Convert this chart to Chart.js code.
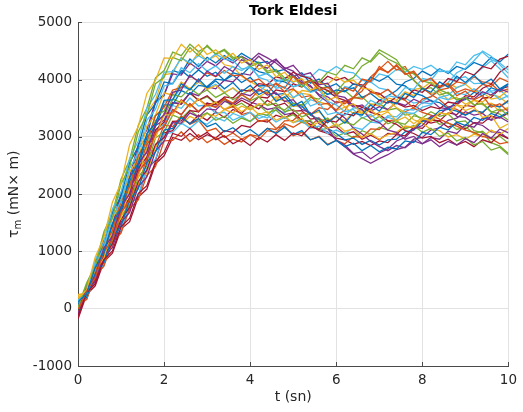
<!DOCTYPE html>
<html>
<head>
<meta charset="utf-8">
<script src="https://cdn.jsdelivr.net/npm/chart.js@4.4.1/dist/chart.umd.min.js"></script>
<style>
  html, body { margin: 0; padding: 0; background: #fff; }
  #wrap { width: 523px; height: 412px; }
</style>
</head>
<body>
<div id="wrap"><canvas id="tork" width="523" height="412"></canvas></div>
<script>
// time axis (s) and tick values
const times = [0,0.2,0.4,0.6,0.8,1,1.2,1.4,1.6,1.8,2,2.2,2.4,2.6,2.8,3,3.2,3.4,3.6,3.8,4,4.2,4.4,4.6,4.8,5,5.2,5.4,5.6,5.8,6,6.2,6.4,6.6,6.8,7,7.2,7.4,7.6,7.8,8,8.2,8.4,8.6,8.8,9,9.2,9.4,9.6,9.8,10];
const xTicks = [0, 2, 4, 6, 8, 10];
const yTicks = [-1000, 0, 1000, 2000, 3000, 4000, 5000];

// torque runs (mN x m)
const r01 = [120,260,720,980,1490,1760,2290,2540,3060,3240,3640,3650,3930,3820,4010,3860,3980,3840,3950,3790,3900,3740,3820,3620,3700,3540,3620,3390,3470,3250,3360,3240,3420,3380,3560,3450,3620,3580,3760,3690,3850,3780,3960,3870,4060,3950,4080,3920,4010,3840,3930];
const r02 = [-30,310,540,990,1210,1680,1900,2380,2610,3080,3190,3470,3390,3580,3440,3560,3520,3670,3590,3740,3650,3820,3760,3940,3850,4060,3920,3990,3810,3870,3730,3860,3800,4010,3970,4230,4120,4260,4090,4150,3960,4030,3880,3910,3720,3800,3650,3720,3520,3580,3440];
const r03 = [180,330,900,1240,1860,2190,2870,3180,3760,3990,4380,4370,4620,4480,4610,4440,4520,4380,4460,4290,4350,4180,4260,4050,4130,3960,4020,3820,3860,3640,3700,3520,3580,3390,3470,3360,3440,3280,3350,3230,3340,3270,3420,3390,3560,3460,3520,3340,3380,3150,3230];
const r04 = [-60,350,560,1060,1270,1780,2010,2530,2740,3230,3390,3780,3820,4080,3960,4150,4060,4230,4140,4350,4260,4410,4280,4360,4190,4250,4080,4120,3910,3940,3720,3690,3540,3480,3310,3250,3120,3080,2960,3010,2880,2950,2830,2920,2860,2970,2900,3060,2980,3140,3070];
const r05 = [20,420,720,1300,1590,2180,2480,3090,3380,3930,4040,4390,4330,4560,4420,4600,4450,4510,4360,4400,4230,4290,4120,4150,3980,4060,3870,3990,3960,4130,4080,4250,4190,4380,4310,4470,4360,4290,4180,4100,3980,3940,3820,3760,3650,3690,3560,3580,3430,3490,3380];
const r06 = [150,260,790,1060,1610,1880,2450,2730,3290,3480,3890,3930,4210,4120,4280,4150,4240,4110,4230,4160,4250,4040,3990,3850,3880,3690,3760,3540,3600,3390,3430,3380,3510,3470,3640,3560,3720,3690,3860,3830,4020,3990,4180,4120,4310,4260,4420,4480,4350,4290,4170];
const r07 = [-120,280,440,860,1010,1430,1580,2010,2150,2570,2730,3060,3010,3150,2990,3080,2950,3020,2880,2960,2850,2990,2910,3040,2940,3070,3020,3180,3130,3290,3260,3410,3370,3520,3480,3640,3590,3700,3660,3820,3780,3910,3860,4020,3970,4140,4080,4230,4190,4360,4410];
const r08 = [90,200,610,810,1250,1440,1900,2090,2550,2740,3120,3150,3340,3230,3320,3180,3240,3090,3160,3040,3130,3020,3150,3060,3170,3040,3110,2950,3000,2860,2940,2830,2890,2760,2850,2740,2820,2790,2930,2900,3080,3040,3170,3120,3260,3200,3340,3290,3410,3350,3440];
const r09 = [10,340,610,1110,1360,1880,2130,2670,2920,3370,3520,3820,3860,4060,3980,4120,4050,4160,4070,4080,3960,4010,3880,3930,3790,3840,3690,3720,3560,3590,3470,3620,3690,3880,3990,4190,4130,4240,4100,4120,3970,4010,3880,3930,3780,3840,3790,3920,3880,4030,3960];
const r10 = [210,200,680,880,1390,1580,2090,2300,2800,2980,3390,3380,3630,3520,3660,3530,3610,3480,3560,3440,3530,3390,3440,3290,3360,3250,3330,3180,3260,3150,3230,3100,3140,2990,3060,2960,3040,3080,3190,3170,3310,3290,3420,3400,3560,3530,3640,3560,3590,3440,3520];
const r11 = [-90,290,480,900,1070,1510,1680,2130,2300,2750,2930,3250,3240,3420,3350,3490,3470,3620,3580,3760,3720,3840,3730,3770,3620,3650,3480,3420,3230,3150,2940,2860,2710,2740,2620,2720,2790,2930,2990,3140,3200,3360,3390,3520,3560,3680,3660,3790,3730,3840,3780];
const r12 = [-20,370,590,1120,1360,1900,2130,2690,2910,3380,3450,3740,3700,3850,3740,3820,3690,3770,3650,3740,3630,3700,3550,3590,3440,3480,3350,3410,3260,3330,3180,3260,3210,3340,3270,3360,3230,3290,3140,3200,3080,3150,3010,3070,2930,2990,2860,2920,2770,2820,2690];
const r13 = [130,290,850,1160,1740,2040,2630,2930,3500,3740,4130,4140,4380,4290,4420,4330,4450,4360,4330,4190,4210,4060,4110,3960,4020,3870,3930,3780,3820,3620,3560,3440,3480,3330,3390,3270,3340,3300,3430,3410,3520,3560,3690,3730,3860,3920,4080,4210,4330,4190,4030];
const r14 = [-150,310,490,930,1130,1560,1770,2220,2420,2870,2990,3270,3280,3460,3440,3590,3560,3700,3680,3820,3800,3930,3910,4050,4010,4130,4060,4020,3880,3810,3690,3640,3560,3520,3430,3390,3280,3220,3110,3060,2980,3010,2900,2960,2860,2920,2830,2950,2900,3040,2970];
const r15 = [60,240,700,960,1450,1700,2220,2460,2990,3180,3560,3560,3810,3740,3900,3880,4010,3990,4120,4080,4230,4140,4100,3990,3960,3880,3920,3790,3850,3740,3820,3790,3930,3880,4040,3970,4060,3920,3890,3770,3720,3630,3600,3490,3450,3380,3460,3430,3560,3520,3630];
const r16 = [70,160,570,740,1160,1320,1750,1900,2330,2480,2930,2940,3090,2920,3040,2900,2990,2870,2960,2910,3040,3010,3150,3130,3280,3290,3420,3390,3510,3480,3620,3580,3690,3660,3780,3740,3830,3700,3640,3500,3430,3380,3310,3240,3190,3120,3080,3010,2970,2880,2910];
const r17 = [250,260,780,1040,1580,1830,2390,2620,3190,3380,3770,3730,3960,3840,3970,3830,3900,3770,3860,3740,3840,3700,3790,3650,3760,3670,3810,3790,3940,3920,4050,3960,3990,3850,3830,3700,3640,3510,3430,3300,3240,3130,3110,3000,3040,2960,3050,3000,3120,3040,3150];
const r18 = [-100,330,570,1040,1260,1770,2010,2530,2730,3200,3290,3600,3580,3770,3720,3880,3840,3990,3960,4110,4080,4260,4200,4340,4210,4150,3980,3900,3720,3610,3440,3330,3150,3050,2920,2830,2760,2850,2810,2930,2880,2990,2960,3100,3060,3210,3170,3330,3300,3460,3490];
const r19 = [40,320,510,970,1170,1620,1810,2300,2490,2980,3090,3380,3320,3470,3350,3420,3290,3360,3240,3330,3270,3410,3380,3530,3470,3590,3560,3690,3660,3810,3780,3960,4040,4240,4330,4520,4440,4350,4120,3990,3830,3860,3730,3780,3650,3690,3560,3590,3440,3400,3290];
const r20 = [110,180,560,780,1190,1380,1810,1980,2440,2610,3050,3080,3240,3150,3280,3220,3340,3280,3410,3350,3430,3320,3380,3260,3340,3250,3290,3150,3190,3060,3120,3050,3170,3130,3260,3240,3370,3350,3480,3470,3600,3580,3690,3650,3770,3740,3840,3760,3790,3650,3720];
const r21 = [-40,330,540,1020,1230,1720,1930,2450,2650,3120,3260,3600,3570,3770,3640,3720,3590,3680,3540,3640,3560,3700,3680,3820,3790,3930,3870,3990,3920,4060,3990,4040,3920,3910,3790,3760,3640,3590,3520,3550,3460,3530,3490,3610,3580,3720,3700,3850,3920,4130,4240];
const r22 = [160,280,820,1100,1680,1960,2550,2830,3380,3580,3960,3930,4160,4040,4170,4060,4130,3990,4080,3950,4040,3890,3900,3740,3760,3580,3540,3380,3310,3150,3060,2950,2980,2870,2940,2860,2950,2960,3090,3120,3270,3320,3460,3480,3620,3650,3780,3720,3860,3800,3920];
const r23 = [200,220,690,920,1400,1630,2160,2380,2880,3030,3410,3420,3650,3530,3660,3550,3610,3480,3530,3390,3430,3270,3300,3150,3190,3020,3080,2950,3010,2870,2940,2880,3010,2990,3140,3130,3280,3300,3440,3510,3660,3700,3820,3850,3960,3930,4050,3960,3930,3790,3840];
const r24 = [-10,300,480,920,1100,1550,1720,2190,2370,2830,2980,3270,3220,3360,3290,3410,3360,3480,3420,3540,3470,3580,3560,3700,3680,3820,3760,3740,3610,3570,3460,3520,3410,3460,3350,3430,3460,3620,3680,3830,3850,3960,3880,3940,3860,3920,3800,3780,3660,3690,3580];
const r25 = [40,380,670,1190,1470,2020,2300,2870,3120,3620,3740,4100,4080,4290,4180,4320,4240,4380,4290,4410,4330,4460,4380,4290,4170,4080,3950,3880,3740,3700,3590,3630,3520,3560,3450,3530,3480,3600,3550,3660,3590,3640,3510,3490,3360,3340,3240,3200,3090,3080,2970];
const r26 = [-140,350,570,1090,1310,1830,2070,2600,2830,3290,3370,3660,3600,3760,3640,3700,3580,3650,3520,3590,3480,3560,3420,3470,3330,3390,3250,3290,3120,3150,3010,3070,2980,3110,3050,3170,3120,3260,3220,3370,3330,3440,3360,3400,3260,3280,3110,3070,2900,2840,2710];
const r27 = [100,240,700,990,1480,1740,2270,2520,3050,3220,3610,3640,3880,3830,3960,3850,3920,3780,3850,3730,3830,3790,3920,3880,4010,3950,4070,4040,4180,4130,4230,4140,4120,3990,3960,3850,3820,3710,3680,3590,3620,3710,3840,3950,4120,4200,4330,4500,4410,4260,4110];
const r28 = [-180,250,400,820,970,1390,1520,1950,2090,2530,2670,2990,2940,3060,2950,3040,2980,3110,3080,3200,3170,3290,3260,3380,3330,3420,3290,3220,3110,3060,2980,2950,2870,2920,2850,2930,2900,3040,3020,3170,3150,3300,3280,3420,3390,3550,3530,3680,3690,3840,3880];
const r29 = [-50,400,640,1170,1420,1990,2210,2790,3010,3600,3720,4160,4110,4360,4230,4390,4290,4420,4330,4460,4370,4290,4320,4140,4180,4050,4120,3940,4010,3860,3930,3800,3860,3690,3760,3640,3720,3810,3960,4020,4150,4070,4190,4110,4230,4180,4300,4240,4390,4310,4450];
const r30 = [130,190,640,830,1300,1480,1960,2150,2640,2820,3210,3180,3370,3220,3290,3100,3150,2990,3070,2960,3040,2950,3110,3080,3230,3170,3260,3200,3320,3250,3380,3460,3690,3800,4050,4180,4320,4170,4230,3990,3860,3740,3650,3520,3480,3390,3470,3420,3580,3530,3640];
const r31 = [230,290,820,1110,1690,1960,2560,2810,3420,3640,4090,4110,4390,4260,4480,4330,4420,4260,4230,4060,3970,3880,3800,3660,3640,3530,3560,3390,3440,3290,3350,3280,3430,3420,3580,3540,3680,3640,3790,3720,3840,3760,3790,3650,3690,3570,3640,3610,3740,3700,3820];
const r32 = [0,330,510,1010,1180,1690,1870,2400,2570,3090,3170,3480,3390,3580,3440,3590,3520,3660,3570,3680,3610,3560,3480,3510,3390,3420,3290,3270,3130,3090,2950,2830,2700,2620,2540,2620,2690,2780,2820,2960,2990,3120,3160,3290,3330,3440,3380,3410,3290,3350,3260];
const r33 = [40,450,760,1340,1670,2260,2600,3200,3500,4030,4160,4480,4420,4620,4490,4580,4450,4530,4390,4400,4260,4310,4150,4180,4030,4070,3940,3990,3840,3880,3760,3810,3680,3700,3560,3590,3470,3500,3380,3410,3300,3340,3220,3250,3130,3180,3060,3100,2970,3010,2890];
const r34 = [-70,340,530,1030,1220,1730,1920,2460,2640,3130,3220,3550,3500,3680,3540,3560,3410,3430,3290,3360,3270,3380,3330,3480,3420,3560,3510,3650,3600,3760,3720,3880,3840,3990,3950,4100,4060,4180,4130,4230,4180,4250,4140,4150,4020,4050,3930,3940,3800,3820,3690];
const r35 = [100,170,600,760,1210,1360,1820,1960,2440,2590,3070,3110,3350,3230,3380,3290,3440,3340,3480,3410,3560,3490,3640,3540,3590,3450,3460,3310,3330,3160,3180,3050,3090,2960,3030,2950,3060,3050,3180,3160,3290,3240,3280,3170,3230,3140,3250,3240,3360,3330,3420];

const runs = [r01, r02, r03, r04, r05, r06, r07, r08, r09, r10, r11, r12, r13, r14,
              r15, r16, r17, r18, r19, r20, r21, r22, r23, r24, r25, r26, r27, r28,
              r29, r30, r31, r32, r33, r34, r35];

// default MATLAB line colour order
const palette = ["#0072BD", "#D95319", "#EDB120", "#7E2F8E", "#77AC30", "#4DBEEE", "#A2142F"];

const FONT = "'DejaVu Sans', sans-serif";
const TEXT = "#262626";
const AXIS = "#4a4a4a";
const GRID = "#e2e2e2";

// matlab-style inside ticks + axis labels
const axesDecor = {
  id: "axesDecor",
  afterDatasetsDraw(chart) {
    const { ctx, chartArea: a, scales } = chart;
    ctx.save();
    ctx.strokeStyle = AXIS;
    ctx.lineWidth = 1;
    ctx.beginPath();
    xTicks.forEach((v) => {
      const px = Math.round(scales.x.getPixelForValue(v)) + 0.5;
      ctx.moveTo(px, a.bottom);
      ctx.lineTo(px, a.bottom - 4);
    });
    yTicks.forEach((v) => {
      const py = Math.round(scales.y.getPixelForValue(v)) + 0.5;
      ctx.moveTo(a.left, py);
      ctx.lineTo(a.left + 4, py);
    });
    ctx.stroke();
    ctx.restore();
  },
  afterDraw(chart) {
    const { ctx, chartArea: a } = chart;
    ctx.save();
    ctx.fillStyle = TEXT;
    ctx.textBaseline = "middle";
    ctx.textAlign = "center";
    ctx.font = "14px " + FONT;
    ctx.fillText("t (sn)", (a.left + a.right) / 2, 397);

    // y label: tau with subscript m
    const main = "14px " + FONT;
    const sub = "10px " + FONT;
    ctx.font = main;
    const wTau = ctx.measureText("τ").width;
    const wRest = ctx.measureText(" (mN× m)").width;
    ctx.font = sub;
    const wSub = ctx.measureText("m").width;
    const total = wTau + wSub + wRest;
    ctx.translate(18, (a.top + a.bottom) / 2);
    ctx.rotate(-Math.PI / 2);
    ctx.textAlign = "left";
    ctx.textBaseline = "alphabetic";
    let x = -total / 2;
    ctx.font = main;
    ctx.fillText("τ", x, 0);
    x += wTau;
    ctx.font = sub;
    ctx.fillText("m", x, 3);
    x += wSub;
    ctx.font = main;
    ctx.fillText(" (mN× m)", x, 0);
    ctx.restore();
  },
};

const datasets = runs.map((vals, i) => ({
  data: vals.map((v, j) => ({ x: times[j], y: v })),
  borderColor: palette[i % palette.length],
  borderWidth: 1.3,
  pointRadius: 0,
  tension: 0,
  fill: false,
}));

new Chart(document.getElementById("tork"), {
  type: "line",
  data: { datasets },
  plugins: [axesDecor],
  options: {
    responsive: false,
    animation: false,
    events: [],
    layout: { padding: { left: 0, right: 9, top: 0, bottom: 0 } },
    plugins: {
      legend: { display: false },
      tooltip: { enabled: false },
      title: {
        display: true,
        text: "Tork Eldesi",
        fullSize: false,
        color: "#000",
        font: { family: FONT, size: 14.5, weight: "bold", lineHeight: 1.2 },
        padding: { top: 3, bottom: 2 },
      },
    },
    scales: {
      x: {
        type: "linear",
        min: 0,
        max: 10,
        afterBuildTicks: (s) => { s.ticks = xTicks.map((v) => ({ value: v })); },
        afterFit: (s) => { s.height = 46; },
        grid: { color: GRID, drawTicks: false },
        border: { color: AXIS, width: 1 },
        ticks: { color: TEXT, padding: 6, maxRotation: 0, callback: (v) => String(v), font: { family: FONT, size: 13.5 } },
      },
      y: {
        type: "linear",
        min: -1000,
        max: 5000,
        afterBuildTicks: (s) => { s.ticks = yTicks.map((v) => ({ value: v })); },
        afterFit: (s) => { s.width = 78; },
        grid: { color: GRID, drawTicks: false },
        border: { color: AXIS, width: 1 },
        ticks: { color: TEXT, padding: 6, callback: (v) => String(v), font: { family: FONT, size: 13.5 } },
      },
    },
  },
});
</script>
</body>
</html>
